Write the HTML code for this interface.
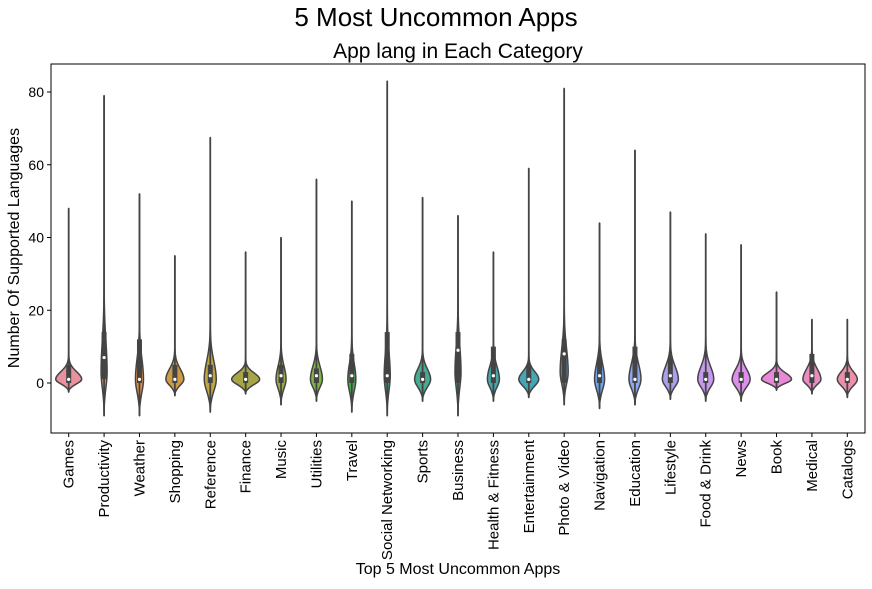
<!DOCTYPE html>
<html><head><meta charset="utf-8"><style>
body{margin:0;background:#fff;font-family:"Liberation Sans",sans-serif}
</style></head><body>
<svg id="c" width="872" height="584" xmlns="http://www.w3.org/2000/svg" font-family="Liberation Sans, sans-serif"></svg>
<script>
const cats=["Games","Productivity","Weather","Shopping","Reference","Finance","Music","Utilities","Travel","Social Networking","Sports","Business","Health & Fitness","Entertainment","Photo & Video","Navigation","Education","Lifestyle","Food & Drink","News","Book","Medical","Catalogs"];
const lows=[-2.5,-9,-9,-3.5,-8,-3,-6,-5,-8,-9,-5,-9,-5,-4,-6,-7,-6,-4.5,-5,-5,-2,-3,-4];
const highs=[48,79,52,35,67.5,36,40,56,50,83,51,46,36,59,81,44,64,47,41,38,25,17.5,17.5];
const medians=[1,7,1,1,2,1,2,2,2,2,1,9,2,1,8,2,1,2,1,1,1,2,1];
const q1s=[0,1,0,0,0,0,0,0,0,0,0,0,0,0,0,0,0,0,0,0,0,0,0];
const q3s=[5,14,12,5,5,3,5,4,8,14,3,14,10,5,12,7,10,7,3,3,3,8,3];
const peaks=[1,3,1,1,1,1,1,1,1,2,1,3,1,1,3,1,1,1,1,1,1,1,1];
const spreads=[3,12,8,4,7,2.5,5,5,6,9,4,10,5,3,9,6,6,5,5,4,2.5,4,3];
const colors=["#e8929f","#e8927a","#e3904a","#cf9a44","#c3a640","#a8a545","#98ad45","#7fb444","#44b148","#45a77c","#46ab93","#44a59c","#45a8a8","#45a6b4","#4aa3ce","#6ea3ea","#8ea6ee","#a8a0ec","#c59aee","#de8eeb","#ea88d8","#eb8bc0","#eb90aa"];
const peakW=[13,3,4,9,6,14,5,6,4,3,8,3,6,10,4,5,6,8,8,9,15,9,10];
const yTicks=[0,20,40,60,80];
const L=51,R=865,T=64,B=433;
const n=cats.length;
const xStep=(R-L)/n;
const X=i=>L+xStep*(i+0.5);
const Y=v=>383-v*3.6375;
const svg=document.getElementById('c');
const NS="http://www.w3.org/2000/svg";
function mk(tag,at,parent){const e=document.createElementNS(NS,tag);for(const k in at)e.setAttribute(k,at[k]);(parent||svg).appendChild(e);return e;}
let t=mk('text',{x:436,y:26,'text-anchor':'middle','font-size':26,fill:'#000'});t.textContent="5 Most Uncommon Apps";


t=mk('text',{x:458,y:58,'text-anchor':'middle','font-size':21,fill:'#000'});t.textContent="App lang in Each Category";


yTicks.forEach(v=>{
 const l=mk('line',{x1:L-4,x2:L,y1:Y(v),y2:Y(v),stroke:'#000'});
 
 
 const tx=mk('text',{x:L-7,y:Y(v)+5,'text-anchor':'end','font-size':14});tx.textContent=v;
 
 
});
t=mk('text',{x:19,y:248,'text-anchor':'middle','font-size':16,transform:'rotate(-90 19 248)'});t.textContent="Number Of Supported Languages";


t=mk('text',{x:458,y:574,'text-anchor':'middle','font-size':16});t.textContent="Top 5 Most Uncommon Apps";


for(let i=0;i<n;i++){
 const cx=X(i),lo=lows[i],hi=highs[i],pk=peaks[i],w=peakW[i];
 const sL=Math.max((pk-lo)/2,0.8),sU=spreads[i];
 const pts=[];
 const steps=120;
 for(let k=0;k<=steps;k++){
  const v=lo+(hi-lo)*k/steps;
  let hw;
  if(v<pk){hw=w*Math.exp(-Math.pow((v-pk)/sL,2));const f=(v-lo)/(pk-lo);hw*=Math.min(1,f*3);}
  else{hw=w*Math.exp(-Math.pow((v-pk)/sU,2));}
  pts.push([v,hw]);
 }
 let d="M"+cx+","+Y(lo);
 pts.forEach(p=>d+=" L"+(cx+p[1]).toFixed(2)+","+Y(p[0]).toFixed(2));
 for(let k=pts.length-1;k>=0;k--)d+=" L"+(cx-pts[k][1]).toFixed(2)+","+Y(pts[k][0]).toFixed(2);
 d+="Z";
 const g=mk('g',{});
 
 
 mk('path',{d:d,fill:colors[i],stroke:'#444',"stroke-width":1.5,"stroke-linejoin":"round"},g);
 mk('line',{x1:cx,x2:cx,y1:Y(lo),y2:Y(hi),stroke:'#444',"stroke-width":1.8},g);
 mk('rect',{x:cx-2.5,y:Y(q3s[i]),width:5,height:Y(q1s[i])-Y(q3s[i]),fill:'#444'},g);
 mk('circle',{cx:cx,cy:Y(medians[i]),r:1.6,fill:'#fff'},g);
 const tk=mk('line',{x1:cx,x2:cx,y1:B,y2:B+4,stroke:'#000'});
 
 
 const lb=mk('text',{x:0,y:0,'text-anchor':'end','font-size':15,transform:`translate(${cx+5},${B+7}) rotate(-90)`});
 lb.textContent=cats[i];
 
 
}
const fr=mk('rect',{x:L,y:T,width:R-L,height:B-T,fill:'none',stroke:'#000','stroke-width':1});


</script>
</body></html>
